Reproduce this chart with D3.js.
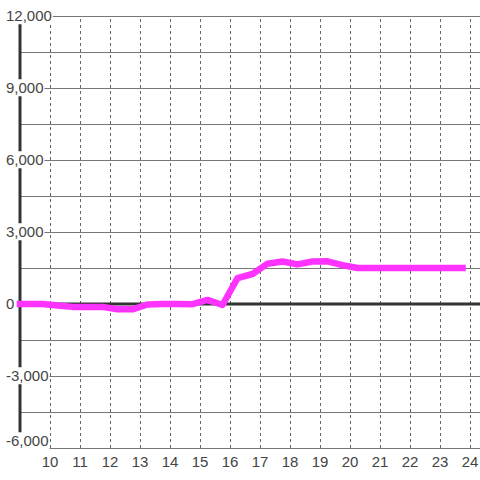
<!DOCTYPE html>
<html>
<head>
<meta charset="utf-8">
<script src="https://cdn.jsdelivr.net/npm/d3@7"></script>
<style>
  body { margin: 0; background: #fff; }
  svg { display: block; font-family: "Liberation Sans", Arial, sans-serif; }
</style>
</head>
<body>
<svg id="svg" width="480" height="480"></svg>
<script>
// hours (decimal) and values
var hours = [9, 9.25, 9.75, 10.25, 10.75, 11.25, 11.75, 12.25, 12.75, 13.25, 13.75,
  14.25, 14.75, 15.25, 15.75, 16.25, 16.75, 17.25, 17.75, 18.25, 18.75, 19.25,
  19.75, 20.25, 20.75, 21.25, 21.75, 22.25, 22.75, 23.25, 23.75];
var values = [0, 0, 0, -60, -120, -120, -120, -220, -220, -20, 0,
  0, -10, 170, -40, 1080, 1250, 1680, 1770, 1650, 1770, 1780,
  1620, 1500, 1500, 1500, 1500, 1500, 1500, 1500, 1500];
var xTicks = [10, 11, 12, 13, 14, 15, 16, 17, 18, 19, 20, 21, 22, 23, 24];
var yGridTicks = [-6000, -4500, -3000, -1500, 0, 1500, 3000, 4500, 6000, 7500, 9000, 10500, 12000];
var yLabelTicks = [12000, 9000, 6000, 3000, 0, -3000, -6000];
var yLabels = ["12,000", "9,000", "6,000", "3,000", "0", "-3,000", "-6,000"];

var svg = d3.select("#svg"),
  x = d3.scaleLinear().domain([9, 24]).range([20, 470]),
  y = d3.scaleLinear().domain([-6000, 12000]).range([448, 16]);

// horizontal grid
var yGrid = svg.append("g")
  .attr("transform", "translate(" + x(9) + ",0)")
  .call(d3.axisRight(y).tickValues(yGridTicks).tickSize(480 - x(9)).tickFormat(""));
yGrid.select(".domain").remove();
yGrid.selectAll("line").attr("stroke", "#777").attr("stroke-width", 1)
  .attr("shape-rendering", "crispEdges");

// vertical dotted grid
var xGrid = svg.append("g")
  .attr("transform", "translate(0," + y(-6000) + ")")
  .call(d3.axisBottom(x).tickValues(xTicks).tickSize(-(y(-6000) - y(12000))).tickFormat(""));
xGrid.select(".domain").remove();
xGrid.selectAll("line").attr("stroke", "#666").attr("stroke-width", 1)
  .attr("stroke-dasharray", "3,3").attr("shape-rendering", "crispEdges");

// y axis line and zero line
svg.append("line")
  .attr("x1", x(9)).attr("x2", x(9))
  .attr("y1", y(12000)).attr("y2", y(-6000))
  .attr("stroke", "#333").attr("stroke-width", 3);
svg.append("line")
  .attr("x1", x(9)).attr("x2", 480)
  .attr("y1", y(0)).attr("y2", y(0))
  .attr("stroke", "#333").attr("stroke-width", 3);

// data line
var pts = hours.map(function (h, i) { return [x(h), y(values[i])]; });
svg.append("path")
  .attr("d", d3.line()(pts))
  .attr("fill", "none")
  .attr("stroke", "#ff33ff")
  .attr("stroke-width", 6.5)
  .attr("stroke-linecap", "square")
  .attr("stroke-linejoin", "round");

// y labels with white boxes (bottom one kept inside the plot)
var yl = svg.append("g").selectAll("g")
  .data(yLabelTicks)
  .join("g")
  .attr("transform", function (d) {
    return "translate(6," + Math.min(y(d), y(-6000) - 7) + ")";
  });
yl.append("text")
  .attr("dy", "0.35em")
  .attr("font-size", 15)
  .attr("fill", "#444")
  .text(function (d, i) { return yLabels[i]; });
yl.each(function () {
  var g = d3.select(this), b = g.select("text").node().getBBox();
  g.insert("rect", "text")
    .attr("x", b.x - 1).attr("y", b.y)
    .attr("width", b.width + 2).attr("height", b.height)
    .attr("fill", "#fff");
});

// x labels
svg.append("g").selectAll("text")
  .data(xTicks)
  .join("text")
  .attr("x", function (d) { return x(d); })
  .attr("y", 467)
  .attr("text-anchor", "middle")
  .attr("font-size", 15)
  .attr("fill", "#444")
  .text(function (d) { return d; });
</script>
</body>
</html>
